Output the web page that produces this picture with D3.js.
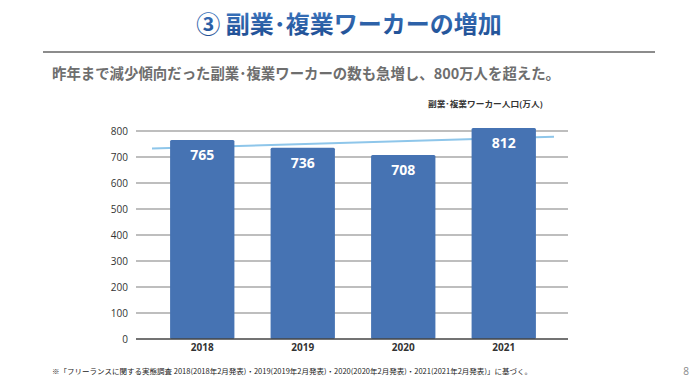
<!DOCTYPE html>
<html>
<head>
<meta charset="utf-8">
<script src="https://cdn.jsdelivr.net/npm/d3@7"></script>
<style>
  body { margin: 0; background: #fff; }
  svg { display: block; font-family: "Noto Sans CJK JP", "Noto Sans", sans-serif; }
</style>
</head>
<body>
<div id="chart"></div>
<script>
var years = ["2018", "2019", "2020", "2021"];
var workers = [765, 736, 708, 812];
var yTicks = [0, 100, 200, 300, 400, 500, 600, 700, 800];

var titleText = "③ 副業･複業ワーカーの増加";
var subText = "昨年まで減少傾向だった副業･複業ワーカーの数も急増し、800万人を超えた。";
var unitText = "副業･複業ワーカー人口(万人)";
var noteText = "※「フリーランスに関する実態調査 2018(2018年2月発表)・2019(2019年2月発表)・2020(2020年2月発表)・2021(2021年2月発表)」に基づく。";

var width = 700, height = 386;
var svg = d3.select("#chart").append("svg")
  .attr("width", width)
  .attr("height", height);

var defs = svg.append("defs");
var grad = defs.append("linearGradient")
  .attr("id", "tg").attr("x1", 0).attr("y1", 0).attr("x2", 0).attr("y2", 1);
grad.append("stop").attr("offset", "0%").attr("stop-color", "#3f7cc6");
grad.append("stop").attr("offset", "100%").attr("stop-color", "#1d4a8e");

// header
svg.append("text")
  .attr("x", 349).attr("y", 33)
  .attr("text-anchor", "middle")
  .attr("font-size", 24).attr("font-weight", "bold")
  .attr("fill", "url(#tg)")
  .text(titleText);

svg.append("line")
  .attr("x1", 43).attr("x2", 655).attr("y1", 52).attr("y2", 52)
  .attr("stroke", "#8c8c8c").attr("stroke-width", 2);

svg.append("text")
  .attr("x", 52).attr("y", 79)
  .attr("font-size", 15).attr("font-weight", "bold")
  .attr("fill", "#6e6e6e")
  .attr("textLength", 508).attr("lengthAdjust", "spacingAndGlyphs")
  .text(subText);

svg.append("text")
  .attr("x", 428).attr("y", 107)
  .attr("font-size", 7.6).attr("font-weight", "bold")
  .attr("fill", "#333")
  .attr("textLength", 115).attr("lengthAdjust", "spacingAndGlyphs")
  .text(unitText);

// scales
var x = d3.scaleBand().domain(years).range([152, 554]).paddingInner(0.36).paddingOuter(0.18);
var y = d3.scaleLinear().domain([0, 800]).range([339, 131]);

// grid
svg.append("g").selectAll("line").data(yTicks.slice(1)).enter().append("line")
  .attr("x1", 136).attr("x2", 568)
  .attr("y1", function(d){ return y(d); })
  .attr("y2", function(d){ return y(d); })
  .attr("stroke", "#a9a9a9").attr("stroke-width", 1.3);

// y axis labels
var yAxis = svg.append("g")
  .attr("transform", "translate(128,0)")
  .call(d3.axisLeft(y).tickValues(yTicks).tickSize(0).tickPadding(0));
yAxis.select(".domain").remove();
yAxis.selectAll("text")
  .attr("font-size", 10).attr("fill", "#333")
  .attr("font-family", "'Open Sans', 'Noto Sans', sans-serif");

// linear trend line over the bar values, spanning the full category range (behind bars)
var n = workers.length;
var xs = d3.range(n);
var mx = d3.mean(xs), my = d3.mean(workers);
var slope = d3.sum(xs, function(v, i){ return (v - mx) * (workers[i] - my); }) /
            d3.sum(xs, function(v){ return (v - mx) * (v - mx); });
var trendAt = function(t){ return my + slope * (t - mx); };
var step = x.step();
var cx0 = x(years[0]) + x.bandwidth() / 2;
svg.append("line")
  .attr("x1", cx0 - step / 2).attr("x2", cx0 + step * (n - 0.5))
  .attr("y1", y(trendAt(-0.5))).attr("y2", y(trendAt(n - 0.5)))
  .attr("stroke", "#8ec6ea").attr("stroke-width", 2);

// bars
svg.append("g").selectAll("rect").data(workers).enter().append("rect")
  .attr("x", function(d, i){ return x(years[i]); })
  .attr("y", function(d){ return y(d); })
  .attr("width", x.bandwidth())
  .attr("height", function(d){ return y(0) - y(d); })
  .attr("rx", 1.5)
  .attr("fill", "#4673b3");

svg.append("g").selectAll("text").data(workers).enter().append("text")
  .attr("x", function(d, i){ return x(years[i]) + x.bandwidth() / 2; })
  .attr("y", function(d){ return y(d) + 20; })
  .attr("text-anchor", "middle")
  .attr("font-family", "'Open Sans', 'Noto Sans', sans-serif")
  .attr("font-size", 14).attr("font-weight", "bold")
  .attr("fill", "#fff")
  .text(function(d){ return d; });

// baseline
svg.append("line")
  .attr("x1", 136).attr("x2", 568).attr("y1", y(0)).attr("y2", y(0))
  .attr("stroke", "#444").attr("stroke-width", 1.5);

// x axis labels
var xAxis = svg.append("g")
  .attr("transform", "translate(0," + (y(0) + 5) + ")")
  .call(d3.axisBottom(x).tickSize(0).tickPadding(0));
xAxis.select(".domain").remove();
xAxis.selectAll("text")
  .attr("font-size", 10).attr("font-weight", "bold").attr("fill", "#333")
  .attr("font-family", "'Open Sans', 'Noto Sans', sans-serif");

// footnote
svg.append("text")
  .attr("x", 52).attr("y", 374)
  .attr("font-size", 7).attr("fill", "#222")
  .attr("textLength", 480).attr("lengthAdjust", "spacingAndGlyphs")
  .text(noteText);

svg.append("text")
  .attr("x", 689).attr("y", 375)
  .attr("text-anchor", "end")
  .attr("font-size", 10).attr("fill", "#888")
  .attr("font-family", "'Open Sans', sans-serif")
  .text("8");
</script>
</body>
</html>
